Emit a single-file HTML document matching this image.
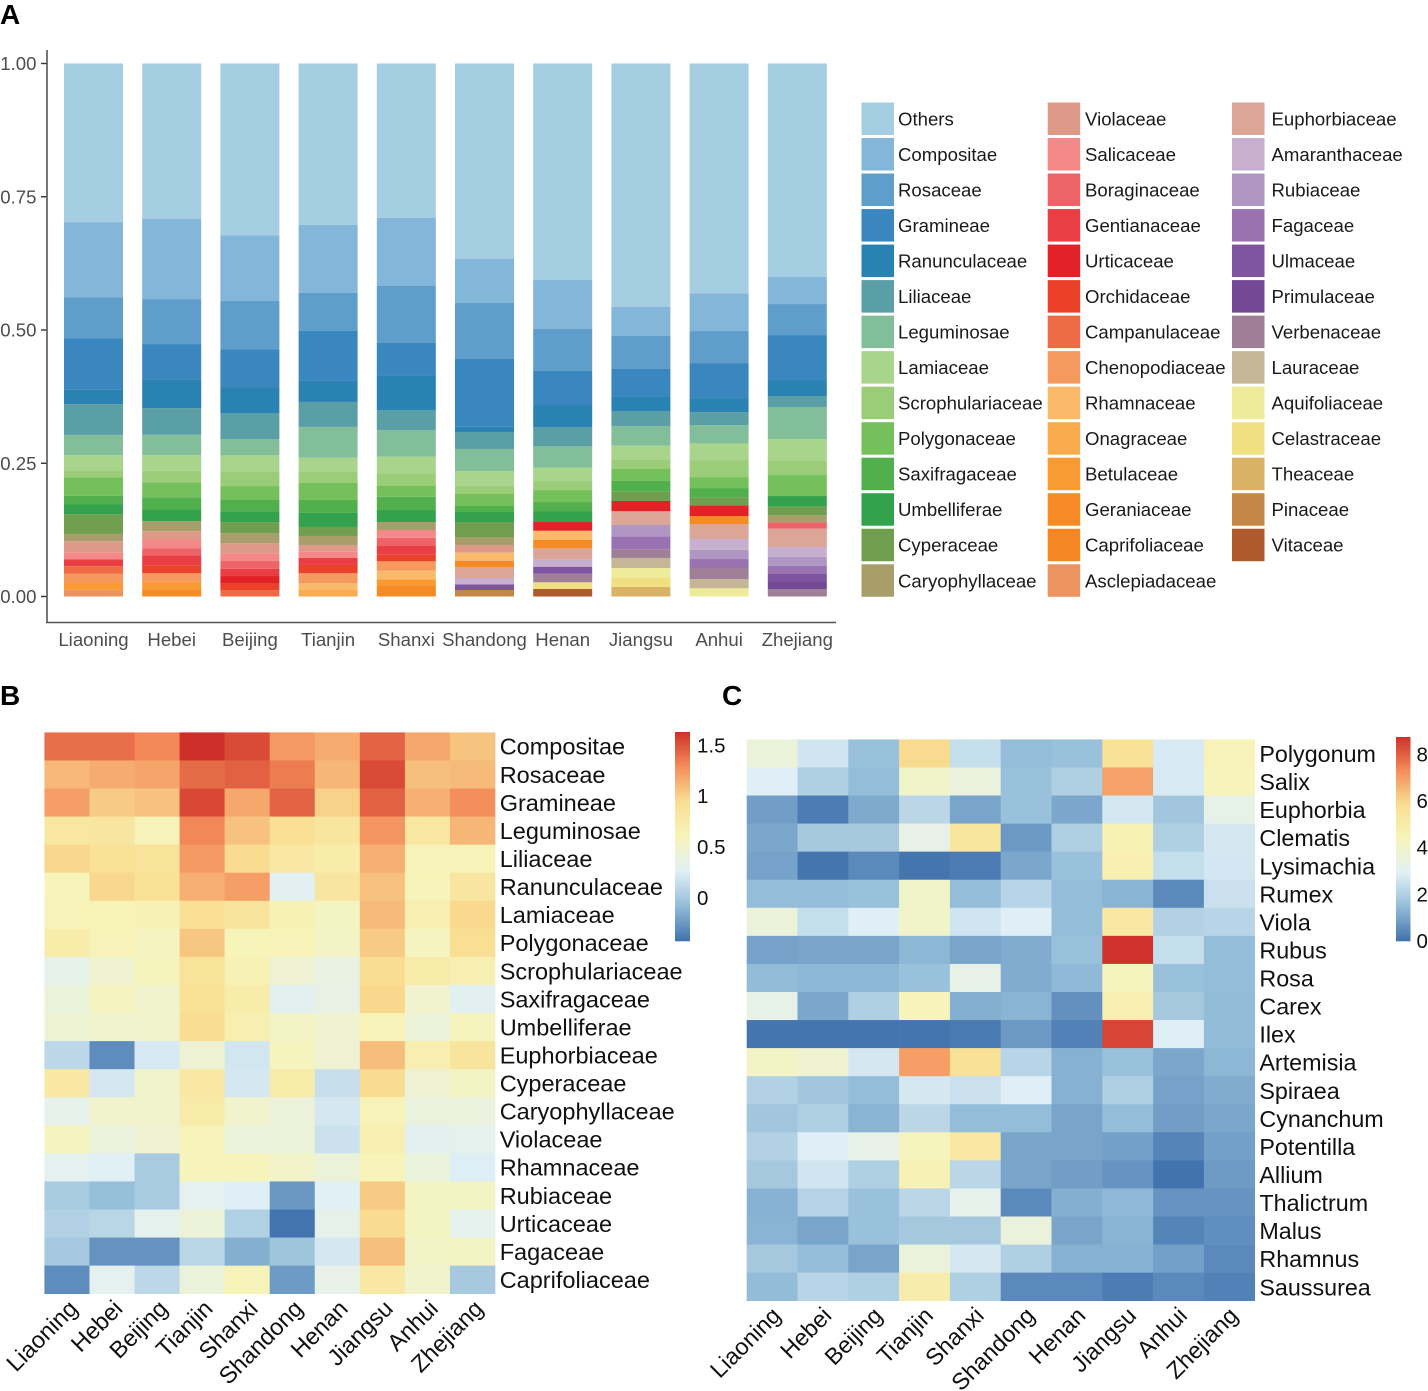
<!DOCTYPE html>
<html lang="en">
<head>
<meta charset="utf-8">
<title>Plant family composition by province</title>
<style>
html,body{margin:0;padding:0;background:#fff;}
svg{display:block;font-family:"Liberation Sans",sans-serif;}
</style>
</head>
<body>
<svg id="chart" xmlns="http://www.w3.org/2000/svg" width="1428" height="1391" viewBox="0 0 1428 1391">
<text x="0" y="24" font-size="28" font-weight="bold" fill="#000">A</text>
<text x="0" y="705" font-size="28" font-weight="bold" fill="#000">B</text>
<text x="722" y="705" font-size="28" font-weight="bold" fill="#000">C</text>
</svg>
<script>
const provinces = ['Liaoning','Hebei','Beijing','Tianjin','Shanxi','Shandong','Henan','Jiangsu','Anhui','Zhejiang'];
const yTickValues = [0,0.25,0.5,0.75,1];
const yTickLabels = ['0.00','0.25','0.50','0.75','1.00'];
const familyNames = ['Others','Compositae','Rosaceae','Gramineae','Ranunculaceae','Liliaceae','Leguminosae','Lamiaceae','Scrophulariaceae','Polygonaceae','Saxifragaceae','Umbelliferae','Cyperaceae','Caryophyllaceae','Violaceae','Salicaceae','Boraginaceae','Gentianaceae','Urticaceae','Orchidaceae','Campanulaceae','Chenopodiaceae','Rhamnaceae','Onagraceae','Betulaceae','Geraniaceae','Caprifoliaceae','Asclepiadaceae','Euphorbiaceae','Amaranthaceae','Rubiaceae','Fagaceae','Ulmaceae','Primulaceae','Verbenaceae','Lauraceae','Aquifoliaceae','Celastraceae','Theaceae','Pinaceae','Vitaceae'];
const familyColors = ['#A6CEE3','#84B6D9','#5F9DCB','#3A87C0','#2A82B3','#5A9EA6','#82BE9A','#A9D48C','#9BCD78','#74C15C','#52B04C','#34A24C','#6F9E4E','#A89E6B','#DE9A88','#F58888','#EE6367','#E93E44','#E32227','#EB412A','#EF6B46','#F6995E','#FAB96B','#F9AB4E','#F99B32','#F68A24','#F68622','#EB9460','#DBA597','#C7AFCF','#B096C3','#9B72B1','#7F54A0','#754896','#9E7F96','#C5B698','#EEEC9A','#F0E081','#DAB263','#C58747','#AF5A2B'];

const liaoningStack = [['Others',29.74],['Compositae',14.07],['Rosaceae',7.69],['Gramineae',9.57],['Ranunculaceae',2.81],['Liliaceae',5.76],['Leguminosae',3.81],['Lamiaceae',2.81],['Scrophulariaceae',1.31],['Polygonaceae',3.51],['Saxifragaceae',1.61],['Umbelliferae',1.82],['Cyperaceae',3.70],['Caryophyllaceae',1.37],['Violaceae',2.06],['Salicaceae',1.31],['Gentianaceae',1.31],['Campanulaceae',1.44],['Chenopodiaceae',1.61],['Betulaceae',1.39],['Asclepiadaceae',1.24]];
const hebeiStack = [['Others',29.17],['Compositae',15.01],['Rosaceae',8.44],['Gramineae',6.57],['Ranunculaceae',5.44],['Liliaceae',5.01],['Leguminosae',3.81],['Lamiaceae',2.95],['Scrophulariaceae',2.12],['Polygonaceae',2.81],['Saxifragaceae',2.31],['Umbelliferae',2.19],['Caryophyllaceae',1.88],['Violaceae',1.56],['Salicaceae',1.63],['Boraginaceae',1.31],['Gentianaceae',1.88],['Orchidaceae',1.50],['Chenopodiaceae',1.63],['Betulaceae',1.37],['Geraniaceae',1.37]];
const beijingStack = [['Others',32.27],['Compositae',12.29],['Rosaceae',9.10],['Gramineae',7.04],['Ranunculaceae',4.93],['Liliaceae',4.82],['Leguminosae',3.06],['Lamiaceae',3.13],['Scrophulariaceae',2.63],['Polygonaceae',2.50],['Saxifragaceae',2.25],['Umbelliferae',2.01],['Cyperaceae',2.06],['Caryophyllaceae',1.93],['Violaceae',1.88],['Salicaceae',1.44],['Boraginaceae',1.44],['Gentianaceae',1.37],['Urticaceae',1.31],['Orchidaceae',1.31],['Campanulaceae',1.22]];
const tianjinStack = [['Others',30.30],['Compositae',12.76],['Rosaceae',7.13],['Gramineae',9.38],['Ranunculaceae',3.94],['Liliaceae',4.69],['Leguminosae',5.76],['Lamiaceae',2.55],['Scrophulariaceae',2.14],['Polygonaceae',3.25],['Saxifragaceae',2.44],['Umbelliferae',2.63],['Cyperaceae',1.69],['Caryophyllaceae',1.69],['Violaceae',1.26],['Salicaceae',1.18],['Gentianaceae',1.31],['Orchidaceae',1.56],['Chenopodiaceae',1.88],['Rhamnaceae',1.26],['Onagraceae',1.22]];
const shanxiStack = [['Others',28.98],['Compositae',12.76],['Rosaceae',10.69],['Gramineae',6.19],['Ranunculaceae',6.38],['Liliaceae',3.75],['Leguminosae',5.01],['Lamiaceae',3.25],['Scrophulariaceae',2.25],['Polygonaceae',2.01],['Saxifragaceae',2.50],['Umbelliferae',2.25],['Caryophyllaceae',1.50],['Salicaceae',1.44],['Boraginaceae',1.43],['Gentianaceae',1.76],['Orchidaceae',1.24],['Chenopodiaceae',1.76],['Rhamnaceae',1.61],['Betulaceae',1.26],['Geraniaceae',1.97]];
const shandongStack = [['Others',36.68],['Compositae',8.25],['Rosaceae',10.51],['Gramineae',12.70],['Ranunculaceae',0.99],['Liliaceae',3.19],['Leguminosae',4.13],['Lamiaceae',2.76],['Scrophulariaceae',1.56],['Polygonaceae',2.25],['Saxifragaceae',1.13],['Umbelliferae',1.88],['Cyperaceae',2.81],['Caryophyllaceae',1.50],['Violaceae',1.44],['Rhamnaceae',1.56],['Geraniaceae',1.13],['Euphorbiaceae',2.06],['Amaranthaceae',1.18],['Ulmaceae',1.07],['Pinaceae',1.22]];
const henanStack = [['Others',40.62],['Compositae',9.19],['Rosaceae',7.88],['Gramineae',6.38],['Ranunculaceae',4.13],['Liliaceae',3.56],['Leguminosae',4.07],['Lamiaceae',2.50],['Scrophulariaceae',1.69],['Polygonaceae',2.25],['Saxifragaceae',1.69],['Umbelliferae',2.06],['Urticaceae',1.63],['Rhamnaceae',1.74],['Geraniaceae',1.56],['Euphorbiaceae',2.14],['Amaranthaceae',1.31],['Ulmaceae',1.31],['Verbenaceae',1.61],['Celastraceae',1.26],['Vitaceae',1.41]];
const jiangsuStack = [['Others',45.68],['Compositae',5.44],['Rosaceae',6.19],['Gramineae',5.25],['Ranunculaceae',2.63],['Liliaceae',2.81],['Leguminosae',3.70],['Lamiaceae',2.55],['Scrophulariaceae',1.82],['Polygonaceae',2.25],['Saxifragaceae',2.01],['Cyperaceae',1.74],['Urticaceae',1.93],['Euphorbiaceae',2.57],['Rubiaceae',2.12],['Fagaceae',2.44],['Verbenaceae',1.63],['Lauraceae',1.88],['Aquifoliaceae',1.88],['Celastraceae',1.69],['Theaceae',1.78]];
const anhuiStack = [['Others',43.15],['Compositae',7.04],['Rosaceae',6.00],['Gramineae',6.57],['Ranunculaceae',2.63],['Liliaceae',2.44],['Leguminosae',3.43],['Lamiaceae',3.13],['Scrophulariaceae',3.19],['Polygonaceae',2.06],['Saxifragaceae',1.74],['Cyperaceae',1.50],['Urticaceae',2.01],['Geraniaceae',1.50],['Euphorbiaceae',2.81],['Amaranthaceae',2.01],['Rubiaceae',1.74],['Fagaceae',1.69],['Verbenaceae',2.06],['Lauraceae',1.74],['Aquifoliaceae',1.54]];
const zhejiangStack = [['Others',40.06],['Compositae',5.07],['Rosaceae',5.82],['Gramineae',8.44],['Ranunculaceae',3.00],['Liliaceae',2.06],['Leguminosae',6.00],['Lamiaceae',4.13],['Scrophulariaceae',2.63],['Polygonaceae',3.94],['Umbelliferae',2.01],['Cyperaceae',1.61],['Caryophyllaceae',1.31],['Boraginaceae',1.20],['Euphorbiaceae',3.43],['Amaranthaceae',1.82],['Rubiaceae',1.69],['Fagaceae',1.56],['Ulmaceae',1.50],['Primulaceae',1.37],['Verbenaceae',1.35]];
const provinceStacks = [liaoningStack,hebeiStack,beijingStack,tianjinStack,shanxiStack,shandongStack,henanStack,jiangsuStack,anhuiStack,zhejiangStack];

const heatBRows = ['Compositae','Rosaceae','Gramineae','Leguminosae','Liliaceae','Ranunculaceae','Lamiaceae','Polygonaceae','Scrophulariaceae','Saxifragaceae','Umbelliferae','Euphorbiaceae','Cyperaceae','Caryophyllaceae','Violaceae','Rhamnaceae','Rubiaceae','Urticaceae','Fagaceae','Caprifoliaceae'];
const heatBValues = [
[1.40,1.40,1.31,1.63,1.53,1.24,1.17,1.44,1.18,1.06],
[1.11,1.16,1.19,1.41,1.45,1.35,1.12,1.53,1.08,1.10],
[1.22,1.03,1.07,1.54,1.18,1.44,1.00,1.45,1.14,1.29],
[0.82,0.83,0.63,1.31,1.07,0.93,0.84,1.26,0.82,1.12],
[0.98,0.92,0.88,1.24,0.96,0.80,0.74,1.15,0.62,0.62],
[0.60,0.98,0.91,1.15,1.22,0.29,0.83,1.07,0.61,0.83],
[0.62,0.64,0.65,0.93,0.86,0.66,0.56,1.10,0.70,0.97],
[0.73,0.63,0.57,1.05,0.61,0.63,0.54,1.03,0.57,0.94],
[0.34,0.48,0.58,0.89,0.65,0.46,0.38,0.95,0.75,0.68],
[0.42,0.57,0.50,0.91,0.73,0.30,0.37,0.98,0.49,0.29],
[0.45,0.49,0.50,0.95,0.69,0.54,0.48,0.63,0.44,0.59],
[0.10,-0.30,0.22,0.45,0.20,0.58,0.47,1.09,0.70,0.85],
[0.80,0.21,0.50,0.80,0.21,0.75,0.15,0.96,0.46,0.55],
[0.33,0.50,0.50,0.76,0.50,0.43,0.21,0.62,0.40,0.40],
[0.57,0.40,0.46,0.62,0.41,0.44,0.17,0.68,0.30,0.32],
[0.31,0.27,0.02,0.60,0.60,0.52,0.44,0.61,0.41,0.25],
[0.02,-0.06,0.02,0.31,0.26,-0.25,0.27,1.03,0.56,0.55],
[0.06,0.09,0.32,0.44,0.05,-0.41,0.34,0.96,0.56,0.32],
[0.00,-0.27,-0.27,0.09,-0.14,-0.02,0.21,1.08,0.53,0.55],
[-0.30,0.31,0.10,0.42,0.62,-0.23,0.35,0.80,0.50,0.01]];
const heatBTicks = [0,0.5,1,1.5];
const heatBTickLabels = ['0','0.5','1','1.5'];

const heatCRows = ['Polygonum','Salix','Euphorbia','Clematis','Lysimachia','Rumex','Viola','Rubus','Rosa','Carex','Ilex','Artemisia','Spiraea','Cynanchum','Potentilla','Allium','Thalictrum','Malus','Rhamnus','Saussurea'];
const heatCValues = [
[3.6,2.6,1.6,5.9,2.4,1.5,1.6,5.6,2.75,4.5],
[2.9,2.0,1.5,4.0,3.5,1.6,2.0,6.95,2.75,4.35],
[0.85,0.2,1.1,2.2,1.0,1.6,1.05,2.7,1.75,3.25],
[1.05,1.8,1.8,3.3,5.35,0.75,2.0,4.6,2.0,2.7],
[0.95,0.05,0.45,0.05,0.2,1.05,1.6,4.75,2.4,2.65],
[1.5,1.5,1.6,4.0,1.5,2.15,1.5,1.3,0.45,2.5],
[3.6,2.4,2.9,4.0,2.6,2.9,1.5,5.2,2.05,2.15],
[0.95,1.0,1.0,1.35,1.0,1.15,1.6,8.7,2.4,1.5],
[1.45,1.35,1.35,1.6,3.3,1.15,1.4,4.3,1.6,1.5],
[3.25,1.05,2.0,4.4,1.2,1.3,0.6,4.75,1.8,1.45],
[0.05,0.05,0.05,0.05,0.15,0.75,0.3,8.4,2.9,1.45],
[4.1,3.85,2.7,7.0,5.6,2.15,1.25,1.6,1.05,1.35],
[2.05,1.75,1.5,2.7,2.5,2.9,1.25,2.0,0.95,1.15],
[1.75,2.0,1.3,2.2,1.5,1.5,1.0,1.5,0.85,1.05],
[2.05,2.9,3.3,4.3,5.2,1.0,1.0,0.9,0.35,0.9],
[1.8,2.6,2.0,4.55,2.2,1.0,0.85,0.65,0.02,0.8],
[1.25,2.1,1.6,2.2,3.2,0.45,1.2,1.4,0.65,0.65],
[1.3,1.0,1.6,1.8,1.8,3.55,1.0,1.3,0.35,0.55],
[1.8,1.5,1.0,3.55,2.7,2.0,1.25,1.25,0.9,0.45],
[1.45,2.15,2.0,4.9,2.0,0.45,0.45,0.2,0.45,0.3]];
const heatCTicks = [0,2,4,6,8];
const heatCTickLabels = ['0','2','4','6','8'];

const heatStops = ['#4272AE','#92BCD8','#E1F0F6','#F7F4BA','#F9DF92','#F48E5A','#CE2F28'];

const svg = document.getElementById('chart');
const NS = 'http://www.w3.org/2000/svg';
function make(tag, attrs, text, parent) {
  const node = document.createElementNS(NS, tag);
  for (const k in attrs) node.setAttribute(k, attrs[k]);
  if (text !== undefined) node.textContent = text;
  (parent || svg).appendChild(node);
  return node;
}
function makeGroup(name) {
  const g = document.createElementNS(NS, 'g');
  
  
  svg.appendChild(g);
  return g;
}
function hexRgb(h) {
  return [parseInt(h.slice(1,3),16),parseInt(h.slice(3,5),16),parseInt(h.slice(5,7),16)];
}
function heatColor(t) {
  const c = Math.max(0, Math.min(1, t)) * (heatStops.length - 1);
  const i = Math.min(Math.floor(c), heatStops.length - 2);
  const f = c - i;
  const a = hexRgb(heatStops[i]);
  const b = hexRgb(heatStops[i + 1]);
  return 'rgb(' + a.map((v, k) => Math.round(v + (b[k] - v) * f)).join(',') + ')';
}

/* ---------- Panel A: stacked bars ---------- */
const barY = v => 596.5 - v * 533;
const barX = i => 93.5 + 78.2 * i;
const barWidth = 59;
const panelA = makeGroup('stacked-bar-panel');

provinces.forEach((province, i) => {
  const stack = provinceStacks[i];
  const total = stack.reduce((s, d) => s + d[1], 0);
  let cum = 0;
  for (let k = stack.length - 1; k >= 0; k--) {
    const share = stack[k][1] / total;
    const top = barY(cum + share);
    const bottom = barY(cum);
    const seg = make('rect', {x: barX(i) - barWidth / 2, y: top, width: barWidth, height: bottom - top, fill: familyColors[familyNames.indexOf(stack[k][0])]}, undefined, panelA);
    
    
    cum += share;
  }
  const label = make('text', {x: barX(i), y: 646, 'text-anchor': 'middle', 'font-size': 18.6, fill: '#4d4d4d'}, province, panelA);
  
  
});

yTickValues.forEach((v, i) => {
  const tick = make('line', {x1: 41, x2: 47, y1: barY(v), y2: barY(v), stroke: '#333', 'stroke-width': 1.4}, undefined, panelA);
  
  
  const label = make('text', {x: 36.5, y: barY(v) + 6.5, 'text-anchor': 'end', 'font-size': 18.6, fill: '#4d4d4d'}, yTickLabels[i], panelA);
  
  
});
const yAxisLine = make('line', {x1: 47, x2: 47, y1: 50, y2: 623, stroke: '#555', 'stroke-width': 1.6}, undefined, panelA);


const xAxisLine = make('line', {x1: 46, x2: 836, y1: 622.5, y2: 622.5, stroke: '#555', 'stroke-width': 1.6}, undefined, panelA);



/* ---------- Panel A: legend ---------- */
const legend = makeGroup('family-legend');
const legendColumnX = [861.5, 1047.7, 1232];
const legendTextX = [898, 1085, 1271.5];
const legendColumnRows = [14, 14, 13];
let familyCursor = 0;
legendColumnRows.forEach((rows, col) => {
  for (let r = 0; r < rows; r++) {
    const idx = familyCursor++;
    const sy = 102.5 + 35.52 * r;
    const swatch = make('rect', {x: legendColumnX[col], y: sy, width: 32.5, height: 32.5, fill: familyColors[idx]}, undefined, legend);
    
    
    const entry = make('text', {x: legendTextX[col], y: sy + 23, 'font-size': 18.6, fill: '#1a1a1a'}, familyNames[idx], legend);
    
    
  }
});

/* ---------- Panels B and C: heatmaps ---------- */
function drawHeatmap(key, rows, values, ticks, tickLabels, o) {
  const g = makeGroup('heatmap-' + key);
  const cw = (o.x1 - o.x0) / provinces.length;
  const ch = (o.y1 - o.y0) / rows.length;
  const tOf = v => (v - o.vmin) / (o.vmax - o.vmin);
  values.forEach((row, r) => {
    row.forEach((v, c) => {
      const cell = make('rect', {x: o.x0 + c * cw, y: o.y0 + r * ch, width: cw + 0.3, height: ch + 0.3, fill: heatColor(tOf(v))}, undefined, g);
      
      
    });
    const label = make('text', {x: o.x1 + 4.7, y: o.y0 + (r + 0.5) * ch + o.rowDy, 'font-size': o.font, fill: '#111'}, rows[r], g);
    
    
  });
  provinces.forEach((p, c) => {
    const cx = o.x0 + (c + 0.5) * cw + o.colDx;
    const label = make('text', {x: cx, y: o.colY, 'text-anchor': 'end', 'font-size': o.font, fill: '#111', transform: 'rotate(-45 ' + cx + ' ' + o.colY + ')'}, p, g);
    
    
  });
  const barG = makeGroup('colorbar-' + key);
  const n = 100;
  const sh = (o.cbBottom - o.cbTop) / n;
  for (let i = 0; i < n; i++) {
    const sw = make('rect', {x: o.cbX, y: o.cbTop + i * sh, width: o.cbW, height: sh + 0.3, fill: heatColor(1 - (i + 0.5) / n)}, undefined, barG);
    
    
  }
  ticks.forEach((t, i) => {
    const y = o.cbBottom - tOf(t) * (o.cbBottom - o.cbTop);
    const tl = make('text', {x: o.cbX + o.cbW + o.cbGap, y: y + 7, 'font-size': 20.5, fill: '#111'}, tickLabels[i], barG);
    
    
  });
}

drawHeatmap('b', heatBRows, heatBValues, heatBTicks, heatBTickLabels, {
  x0: 44.4, x1: 495, y0: 732.4, y1: 1293.7, vmin: -0.42, vmax: 1.63, font: 23.5, rowDy: 8.3, colDx: 12, colY: 1310,
  cbX: 675, cbW: 15, cbTop: 732, cbBottom: 941, cbGap: 7
});
drawHeatmap('c', heatCRows, heatCValues, heatCTicks, heatCTickLabels, {
  x0: 746.7, x1: 1254.7, y0: 739.4, y1: 1300.7, vmin: 0, vmax: 8.75, font: 23.3, rowDy: 8.6, colDx: 10, colY: 1317,
  cbX: 1396, cbW: 14.5, cbTop: 737, cbBottom: 941, cbGap: 6
});
</script>
</body>
</html>
